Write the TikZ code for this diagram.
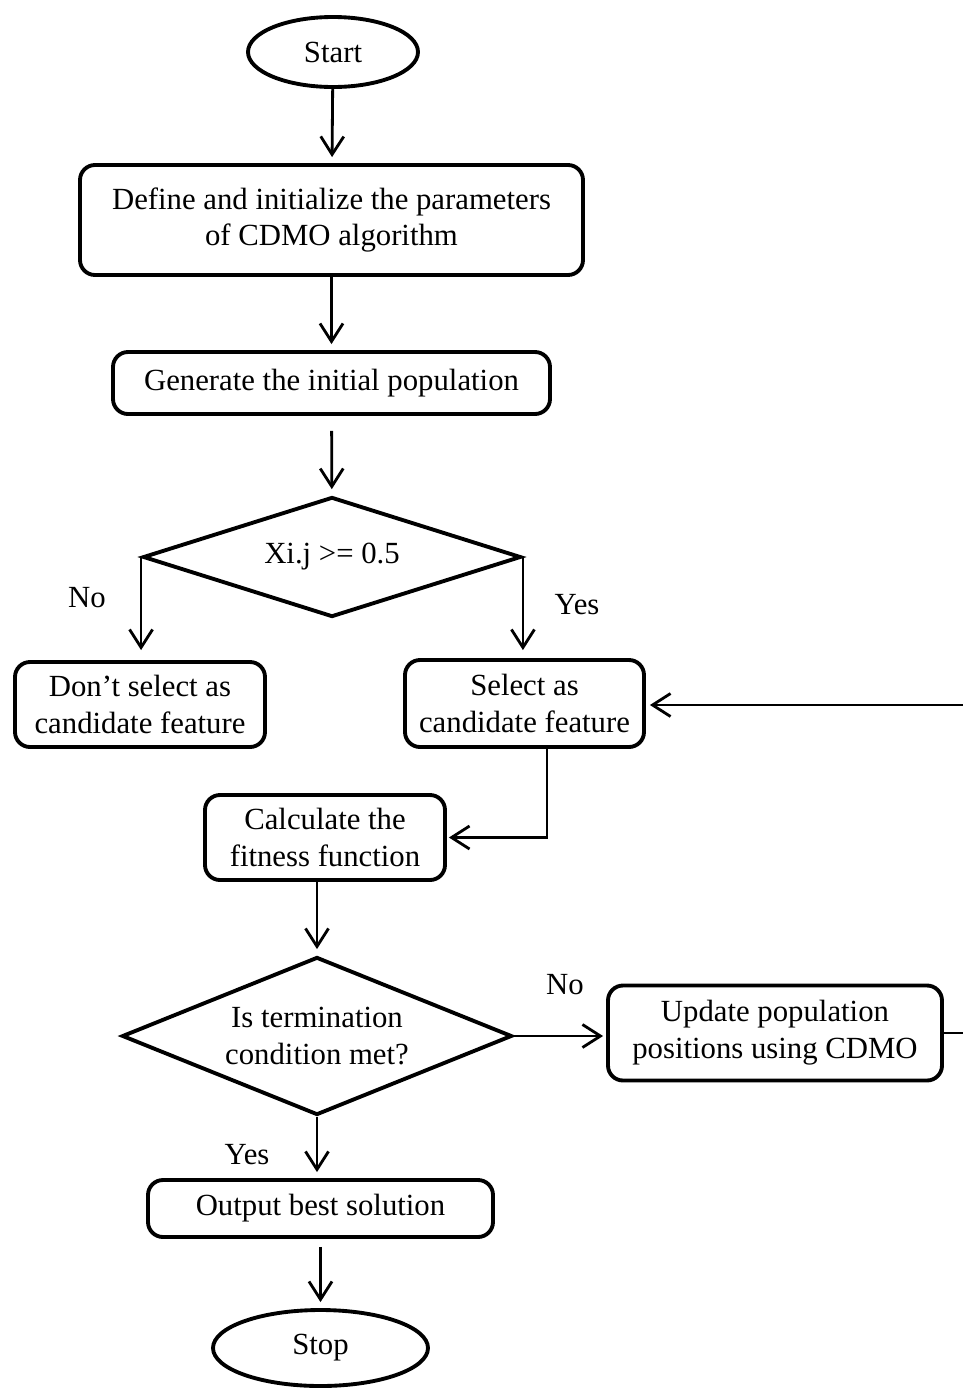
\documentclass[tikz,border=0pt]{standalone}
\usepackage{fontspec}
\setmainfont{Liberation Serif}
\usetikzlibrary{shapes.geometric, arrows.meta}

\begin{document}
\begin{tikzpicture}[every node/.style={font=\fontsize{17.5}{21}\selectfont},
    box/.style={draw, line width=2.2pt, rounded corners=0.3cm, align=center, inner sep=2pt},
    term/.style={draw, ellipse, line width=2.2pt, inner sep=0pt},
    decision/.style={draw, diamond, line width=2.2pt, align=center, inner sep=0pt},
    flow/.style={-{Straight Barb[length=3.6mm, width=4.6mm]}, line width=1.6pt, shorten >=0.12cm}]
    \useasboundingbox (0,0) rectangle (19.24,-27.76);

    % Start and set-up
    \node[term, minimum width=3.4cm, minimum height=1.4cm] (start) at (6.66,-1.04) {Start};
    \node[box, minimum width=10.06cm, minimum height=2.2cm] (define) at (6.63,-4.4)
        {Define and initialize the parameters\\of CDMO algorithm};
    \node[box, minimum width=8.74cm, minimum height=1.24cm] (generate) at (6.63,-7.66)
        {Generate the initial population};

    % First decision
    \node[decision, shape aspect=3.15, minimum width=7.56cm, minimum height=2.4cm] (check) at (6.64,-11.14) {Xi.j >= 0.5};
    \node[box, minimum width=5cm, minimum height=1.7cm] (noselect) at (2.8,-14.09)
        {Don’t select as\\candidate feature};
    \node[box, minimum width=4.78cm, minimum height=1.74cm] (select) at (10.49,-14.07)
        {Select as\\candidate feature};
    \node (lblno) at (1.74,-11.96) {No};
    \node (lblyes) at (11.54,-12.1) {Yes};

    % Fitness and termination
    \node[box, minimum width=4.8cm, minimum height=1.7cm] (fitness) at (6.5,-16.75)
        {Calculate the\\fitness function};
    \node[decision, shape aspect=2.47, minimum width=7.8cm, minimum height=3.16cm] (stopcheck) at (6.34,-20.72)
        {Is termination\\condition met?};
    \node[box, minimum width=6.68cm, minimum height=1.9cm] (update) at (15.5,-20.66)
        {Update population\\positions using CDMO};
    \node (lblno2) at (11.3,-19.7) {No};
    \node (lblyes2) at (4.94,-23.1) {Yes};

    % End
    \node[box, minimum width=6.9cm, minimum height=1.14cm] (output) at (6.41,-24.17)
        {Output best solution};
    \node[term, minimum width=4.3cm, minimum height=1.52cm] (stop) at (6.41,-26.96) {Stop};

    % Connectors
    \draw[flow] (start) -- (define);
    \draw[flow] (define) -- (generate);
    \draw[flow, shorten <=0.3cm] (generate) -- (check);
    \draw[flow, shorten >=0.2cm] (check.west) -- (check.west |- noselect.north);
    \draw[flow, shorten >=0.16cm] (check.east) -- (check.east |- select.north);
    \draw[flow, shorten >=0.04cm] ([xshift=0.45cm]select.south) |- (fitness.east);
    \draw[flow] (stopcheck.north |- fitness.south) -- (stopcheck.north);
    \draw[flow, shorten >=0.06cm] (stopcheck.east) -- (stopcheck.east -| update.west);
    \coordinate (turn) at (19.3,-14.1);
    \draw[flow, shorten >=0.08cm] (update.east) -| (turn) -- (select.east |- turn);
    \draw[flow] (stopcheck.south) -- (stopcheck.south |- output.north);
    \draw[flow, shorten <=0.16cm] (output) -- (stop);
\end{tikzpicture}
\end{document}
